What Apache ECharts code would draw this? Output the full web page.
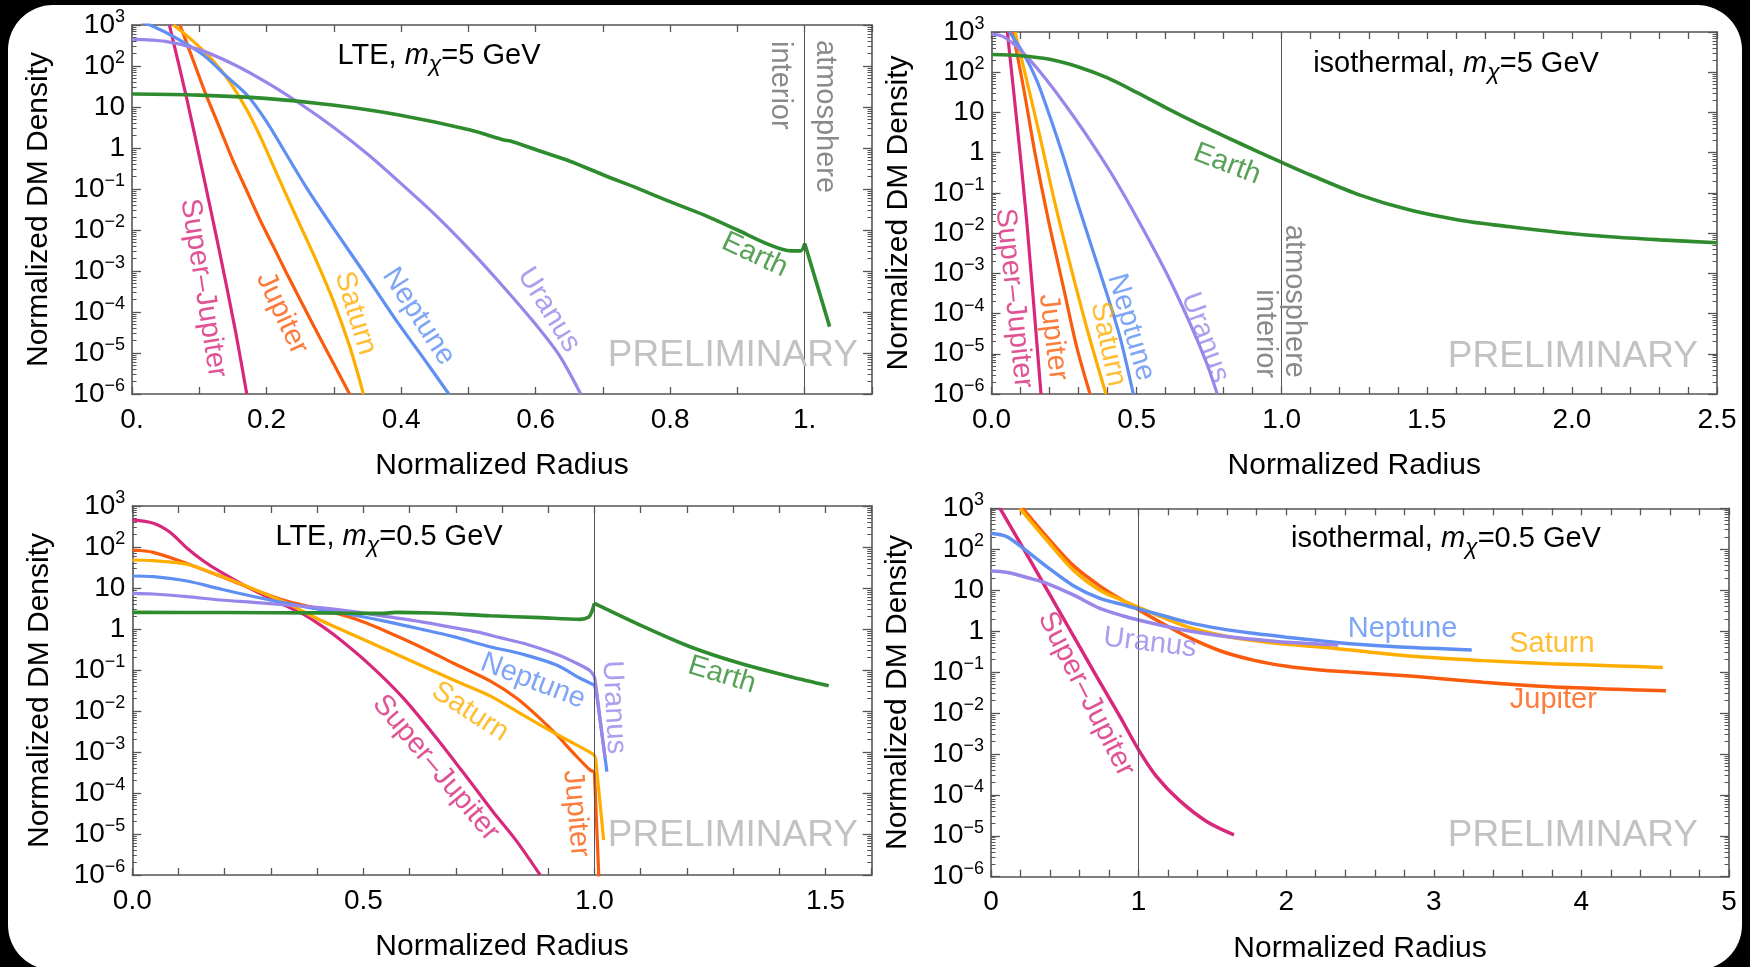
<!DOCTYPE html>
<html><head><meta charset="utf-8">
<script src="https://cdn.jsdelivr.net/npm/echarts@6/dist/echarts.min.js"></script>
<style>
html,body{margin:0;padding:0;background:#000;width:1750px;height:967px;overflow:hidden}
#card{position:absolute;left:8px;top:5px;width:1734px;height:965px;background:#fff;border-radius:45px}
#chart{position:absolute;left:0;top:0;width:1750px;height:967px}
</style></head><body>
<div id="card"></div><div id="chart"></div>
<script>
// ---------------- tick labels ----------------
const xTickTextLTE5 = ['0.', '0.2', '0.4', '0.6', '0.8', '1.'];
const xTickTextISO5 = ['0.0', '0.5', '1.0', '1.5', '2.0', '2.5'];
const xTickTextLTE05 = ['0.0', '0.5', '1.0', '1.5'];
const xTickTextISO05 = ['0', '1', '2', '3', '4', '5'];
const yTickValues = [1e-6, 1e-5, 1e-4, 1e-3, 1e-2, 1e-1, 1, 10, 100, 1000];
const yTickText = ['10^−6', '10^−5', '10^−4', '10^−3', '10^−2', '10^−1', '1', '10', '10^2', '10^3'];

// ---------------- data: [normalized radius, normalized DM density] ----------------
// LTE, m = 5 GeV
const lte5SuperJupiter = [[0.0556,1000],[0.0813,16.3],[0.106,0.22],[0.131,2.5e-3],[0.153,4.0e-5],[0.1706,1.0e-6]];
const lte5Jupiter = [[0.0714,1000],[0.09,151],[0.11,20],[0.13,3.2],[0.15,0.5],[0.17,0.095],[0.19,0.018],[0.21,4.0e-3],[0.23,8.7e-4],[0.25,2.0e-4],[0.27,4.6e-5],[0.30,5.4e-6],[0.3234,1.0e-6]];
const lte5Saturn = [[0.0615,1000],[0.09,417],[0.12,138],[0.145,41.7],[0.17,8.9],[0.19,2.0],[0.215,0.24],[0.24,0.0295],[0.27,2.5e-3],[0.30,1.74e-4],[0.324,1.38e-5],[0.344,1.0e-6]];
const lte5Neptune = [[0,1400],[0.0268,1000],[0.0665,473],[0.106,185],[0.141,55],[0.171,19.6],[0.200,4.4],[0.230,0.675],[0.260,0.104],[0.2996,0.011],[0.344,9.6e-4],[0.394,5.8e-5],[0.4335,7.4e-6],[0.471,1.0e-6]];
const lte5Uranus = [[0,447],[0.05,398],[0.1,251],[0.15,112],[0.2,39.8],[0.25,12],[0.3,3.16],[0.35,0.71],[0.4,0.135],[0.45,0.024],[0.5,3.55e-3],[0.55,4.5e-4],[0.6,5.0e-5],[0.635,8.9e-6],[0.667,1.0e-6]];
const lte5EarthInterior = [[0,20.7],[0.099,19.5],[0.198,16.2],[0.298,11.2],[0.397,6.4],[0.503,2.75],[0.5526,1.57],[0.5625,1.48],[0.602,0.89],[0.652,0.47],[0.701,0.219],[0.751,0.105],[0.80,0.049],[0.85,0.0234],[0.90,0.010],[0.949,4.27e-3],[0.979,3.1e-3],[0.994,3.1e-3],[1.0,4.68e-3]];
const lte5EarthAtmosphere = [[1.0,4.68e-3],[1.037,4.4e-5]];

// isothermal, m = 5 GeV
const iso5SuperJupiter = [[0.0546,1000],[0.0867,6.5],[0.121,0.021],[0.1706,1.0e-6]];
const iso5Jupiter = [[0.0729,1000],[0.1097,43.7],[0.150,0.96],[0.196,0.021],[0.2475,4.6e-4],[0.2935,1.48e-5],[0.3395,1.0e-6]];
const iso5Saturn = [[0.081,1000],[0.1212,64],[0.167,2.49],[0.2188,0.0547],[0.276,1.2e-3],[0.3337,3.2e-5],[0.3945,1.0e-6]];
const iso5Neptune = [[0.0615,1000],[0.1097,295],[0.1556,64],[0.2016,7.8],[0.2475,0.79],[0.2935,0.066],[0.345,4.6e-3],[0.397,3.2e-4],[0.4428,2.6e-5],[0.4888,1.0e-6]];
const iso5Uranus = [[0,891],[0.0408,766],[0.0867,432],[0.1327,200],[0.190,64],[0.259,13.9],[0.339,2.06],[0.4199,0.252],[0.5117,0.0174],[0.6036,9.9e-4],[0.684,5.7e-5],[0.7414,5.8e-6],[0.778,1.0e-6]];
const iso5Earth = [[0,275],[0.1,257],[0.2,209],[0.3,135],[0.4,72],[0.5,31.6],[0.6,13.2],[0.7,5.75],[0.8,2.63],[0.925,1.0],[1.0,0.575],[1.0975,0.282],[1.27,0.088],[1.442,0.0373],[1.614,0.021],[1.787,0.0144],[1.959,0.0104],[2.131,8.1e-3],[2.304,6.8e-3],[2.5,5.75e-3]];

// LTE, m = 0.5 GeV
const lte05SuperJupiter = [[0,457],[0.0455,380],[0.0816,229],[0.118,95],[0.154,45.7],[0.19,25.1],[0.262,8.9],[0.334,3.63],[0.367,2.4],[0.40,1.41],[0.442,0.646],[0.5145,0.132],[0.587,0.0204],[0.659,2.14e-3],[0.731,1.9e-4],[0.78,3.55e-5],[0.83,7.1e-6],[0.8826,1.0e-6]];
const lte05Jupiter = [[0,84.5],[0.0455,74],[0.118,39.8],[0.19,19.5],[0.262,9.3],[0.334,4.8],[0.406,3.08],[0.4785,1.82],[0.551,0.86],[0.623,0.37],[0.695,0.146],[0.774,0.054],[0.832,0.0204],[0.882,6.6e-3],[0.9186,2.6e-3],[0.955,9.3e-4],[0.991,3.6e-4],[1.0,3.3e-4],[1.0095,9e-7]];
const lte05Saturn = [[0,48.2],[0.0455,46.4],[0.118,38],[0.19,20],[0.262,9.5],[0.334,4.27],[0.406,1.66],[0.4785,0.714],[0.551,0.308],[0.623,0.132],[0.695,0.057],[0.774,0.0234],[0.846,7.9e-3],[0.911,3.0e-3],[0.955,1.62e-3],[0.998,8.7e-4],[1.0026,7.1e-4],[1.02,7.1e-6]];
const lte05Neptune = [[0,19.6],[0.0455,18.9],[0.118,14.8],[0.19,9.5],[0.262,6.2],[0.334,4.23],[0.406,3.02],[0.4785,2.19],[0.551,1.51],[0.623,1.0],[0.695,0.65],[0.774,0.37],[0.846,0.241],[0.918,0.132],[0.969,0.063],[1.0,0.043],[1.004,0.0295],[1.027,3.3e-4]];
const lte05Uranus = [[0,7.41],[0.0455,7.14],[0.118,6.15],[0.19,5.09],[0.262,4.47],[0.334,3.85],[0.406,3.31],[0.4785,2.65],[0.551,2.0],[0.623,1.51],[0.695,1.08],[0.746,0.85],[0.796,0.615],[0.846,0.447],[0.918,0.241],[0.969,0.132],[0.991,0.0946],[1.0,0.069],[1.004,0.0355],[1.023,7.1e-4]];
const lte05EarthInterior = [[0,2.55],[0.2,2.52],[0.4,2.47],[0.54,2.4],[0.57,2.55],[0.65,2.45],[0.774,2.11],[0.8825,1.89],[0.969,1.72],[0.987,1.93],[0.994,2.55],[1.0,4.23]];
const lte05EarthAtmosphere = [[1.0,4.23],[1.099,1.25],[1.207,0.37],[1.315,0.146],[1.424,0.0687],[1.507,0.0415]];

// isothermal, m = 0.5 GeV
const iso05SuperJupiter = [[0.061,1000],[0.264,54.7],[0.49,2.06],[0.716,0.0776],[0.874,8.1e-3],[1.0,1.26e-3],[1.122,2.8e-4],[1.28,7.1e-5],[1.461,2.24e-5],[1.646,1.05e-5]];
const iso05Jupiter = [[0.2145,1000],[0.377,204],[0.558,39.8],[0.738,12.6],[0.8966,5.5],[1.0,3.31],[1.145,1.66],[1.326,0.741],[1.551,0.331],[1.777,0.195],[2.003,0.138],[2.229,0.112],[2.43,0.1],[2.884,0.0776],[3.336,0.0562],[3.788,0.0437],[4.24,0.038],[4.573,0.0347]];
const iso05Saturn = [[0.196,1000],[0.377,168],[0.558,30.9],[0.738,10],[0.897,5.5],[1.0,3.8],[1.145,2.29],[1.326,1.29],[1.551,0.805],[1.777,0.585],[2.003,0.476],[2.229,0.409],[2.45,0.339],[2.884,0.238],[3.336,0.19],[3.788,0.16],[4.24,0.141],[4.551,0.129]];
const iso05Neptune = [[0,245],[0.106,204],[0.219,105],[0.377,37.6],[0.558,12.9],[0.738,6.3],[0.897,4.37],[1.0,3.47],[1.145,2.51],[1.326,1.66],[1.551,1.15],[1.777,0.883],[2.003,0.708],[2.229,0.585],[2.432,0.49],[2.771,0.407],[3.257,0.347]];
const iso05Uranus = [[0,29.5],[0.106,27.3],[0.264,19.5],[0.377,14.7],[0.558,7.64],[0.738,3.6],[0.897,2.34],[1.0,1.87],[1.145,1.41],[1.326,1.03],[1.551,0.774],[1.777,0.631],[2.003,0.532],[2.353,0.458]];

// ---------------- styling / layout ----------------
const FONT = 'Liberation Sans';
const FRAME = '#555';
const COL = { sj: '#d8287b', jup: '#fb5b0d', sat: '#ffae00', nep: '#5f8ff2', ura: '#9a86ea', earth: '#2e8b2e' };

const panels = [
  { grid: { left: 132, top: 25, width: 740, height: 369 }, xmax: 1.1, minor: 0.1, major: 0.2, xText: xTickTextLTE5, lineW: 3.2, splitEdge: false,
    curves: [[lte5SuperJupiter, 'sj'], [lte5Jupiter, 'jup'], [lte5Saturn, 'sat'], [lte5Neptune, 'nep'], [lte5Uranus, 'ura'], [lte5EarthInterior, 'earth'], [lte5EarthAtmosphere, 'earth']],
    labels: [['Super–Jupiter', 'sj', 0.106, -3.42, -81], ['Jupiter', 'jup', 0.2228, -4.03, -65], ['Saturn', 'sat', 0.332, -4.03, -73], ['Neptune', 'nep', 0.426, -4.11, -57], ['Uranus', 'ura', 0.6195, -3.95, -58], ['Earth', 'earth', 0.9256, -2.61, -25]] },
  { grid: { left: 991.5, top: 32, width: 725.5, height: 362 }, xmax: 2.5, minor: 0.1, major: 0.5, xText: xTickTextISO5, lineW: 3.2, splitEdge: false,
    curves: [[iso5SuperJupiter, 'sj'], [iso5Jupiter, 'jup'], [iso5Saturn, 'sat'], [iso5Neptune, 'nep'], [iso5Uranus, 'ura'], [iso5Earth, 'earth']],
    labels: [['Super–Jupiter', 'sj', 0.0775, -3.62, -84], ['Jupiter', 'jup', 0.212, -4.59, -83], ['Saturn', 'sat', 0.4014, -4.76, -78], ['Neptune', 'nep', 0.4807, -4.34, -74], ['Uranus', 'ura', 0.7357, -4.6, -70], ['Earth', 'earth', 0.8115, -0.284, -21]] },
  { grid: { left: 132.3, top: 506, width: 739.4, height: 369 }, xmax: 1.6, minor: 0.1, major: 0.5, xText: xTickTextLTE05, lineW: 3.2, splitEdge: true,
    curves: [[lte05SuperJupiter, 'sj'], [lte05Jupiter, 'jup'], [lte05Saturn, 'sat'], [lte05Neptune, 'nep'], [lte05Uranus, 'ura'], [lte05EarthInterior, 'earth'], [lte05EarthAtmosphere, 'earth']],
    labels: [['Neptune', 'nep', 0.867, -1.27, -21], ['Uranus', 'ura', 1.042, -1.91, -87], ['Earth', 'earth', 1.276, -1.12, -17], ['Saturn', 'sat', 0.731, -2.02, -33], ['Super–Jupiter', 'sj', 0.657, -3.39, -50], ['Jupiter', 'jup', 0.9604, -4.5, -85]] },
  { grid: { left: 991, top: 508.3, width: 738, height: 368.4 }, xmax: 5, minor: 0.2, major: 1, xText: xTickTextISO05, lineW: 3.5, splitEdge: false,
    curves: [[iso05SuperJupiter, 'sj'], [iso05Jupiter, 'jup'], [iso05Saturn, 'sat'], [iso05Neptune, 'nep'], [iso05Uranus, 'ura']],
    labels: [['Super–Jupiter', 'sj', 0.644, -1.54, -63], ['Uranus', 'ura', 1.077, -0.29, -7], ['Neptune', 'nep', 2.788, 0.063, 0], ['Saturn', 'sat', 3.80, -0.315, 0], ['Jupiter', 'jup', 3.81, -1.68, 0]] }
];

const yMinorValues = [];
for (let e = -6; e < 3; e++) for (let k = 2; k < 10; k++) yMinorValues.push(+(k * Math.pow(10, e)).toPrecision(3));

function yLabel(v) {
  const i = yTickValues.findIndex(t => Math.abs(Math.log10(t) - Math.log10(v)) < 1e-6);
  if (i < 0) return '';
  const parts = yTickText[i].split('^');
  return parts.length > 1 ? parts[0] + '{s|' + parts[1] + '}' : parts[0];
}

const grids = [], xAxes = [], yAxes = [], series = [];
panels.forEach((p, pi) => {
  grids.push(Object.assign({ containLabel: false }, p.grid));
  const minorVals = [];
  for (let i = 0; i <= Math.round(p.xmax / p.minor); i++) minorVals.push(+(i * p.minor).toFixed(4));
  const majorVals = p.xText.map((t, i) => +(i * p.major).toFixed(4));
  const lineStyle = { color: FRAME, width: 1.6 };
  const tickStyle = { color: FRAME, width: 1.3 };
  xAxes.push({
    type: 'value', gridIndex: pi, position: 'bottom', min: 0, max: p.xmax,
    axisLine: { show: true, onZero: false, lineStyle },
    axisTick: { show: true, inside: true, length: 7, customValues: minorVals, lineStyle: tickStyle },
    axisLabel: { show: true, customValues: majorVals, fontFamily: FONT, fontSize: 28, color: '#000', margin: 12,
      formatter: v => { const k = v / p.major; const r = Math.round(k); return Math.abs(k - r) < 1e-6 && p.xText[r] !== undefined ? p.xText[r] : ''; } },
    splitLine: { show: false },
    name: 'Normalized Radius', nameLocation: 'middle', nameGap: 57,
    nameTextStyle: { fontFamily: FONT, fontSize: 30, color: '#000' }
  });
  xAxes.push({
    type: 'value', gridIndex: pi, position: 'top', min: 0, max: p.xmax,
    axisLine: { show: true, onZero: false, lineStyle },
    axisTick: { show: true, inside: true, length: 7, customValues: minorVals, lineStyle: tickStyle },
    axisLabel: { show: false }, splitLine: { show: false }
  });
  ['left', 'right'].forEach(pos => {
    yAxes.push({
      type: 'log', logBase: 10, gridIndex: pi, position: pos, min: 1e-6, max: 1e3,
      axisLine: { show: true, onZero: false, lineStyle },
      axisTick: { show: true, inside: true, length: 9, customValues: yTickValues, lineStyle: tickStyle },
      axisLabel: pos === 'left' ? {
        show: true, customValues: yTickValues, formatter: yLabel, fontFamily: FONT, fontSize: 28, lineHeight: 34, color: '#000', margin: 7,
        rich: { s: { fontFamily: FONT, fontSize: 18, lineHeight: 20, verticalAlign: 'top', color: '#000' } }
      } : { show: false },
      splitLine: { show: false }, minorTick: { show: false },
      name: pos === 'left' ? 'Normalized DM Density' : '', nameLocation: 'middle', nameGap: 78, nameRotate: 90,
      nameTextStyle: { fontFamily: FONT, fontSize: 30, color: '#000' }
    });
    yAxes.push({
      type: 'log', logBase: 10, gridIndex: pi, position: pos, min: 1e-6, max: 1e3,
      axisLine: { show: false, onZero: false },
      axisTick: { show: true, inside: true, length: 4.5, customValues: yMinorValues, lineStyle: { color: FRAME, width: 1 } },
      axisLabel: { show: false }, splitLine: { show: false }
    });
  });
  const xi = pi * 2, yi = pi * 4;
  const mkLine = (data, color, width, smooth, z) => ({
    type: 'line', xAxisIndex: xi, yAxisIndex: yi, data, showSymbol: false, symbol: 'none',
    smooth, clip: true, z, lineStyle: { color, width }, silent: true, animation: false
  });
  p.curves.forEach((c, ci) => {
    const color = COL[c[1]];
    const width = c[1] === 'earth' ? 3.6 : p.lineW;
    const z = 2 + ci * 0.01;
    const d = c[0];
    const k = d.findIndex(pt => pt[0] >= 1.0);
    if (p.splitEdge && c[1] !== 'earth' && k > 0) {
      // smooth interior, straight plunge at the surface
      series.push(mkLine(d.slice(0, k + 1), color, width, 0.3, z));
      series.push(mkLine(d.slice(k), color, width, false, z));
    } else {
      series.push(mkLine(d, color, width, d.length > 2 ? 0.3 : false, z));
    }
  });
  series.push({
    type: 'line', xAxisIndex: xi, yAxisIndex: yi, data: [], silent: true, animation: false,
    markLine: { silent: true, symbol: ['none', 'none'], label: { show: false }, animation: false,
      lineStyle: { color: '#555', width: 1, type: 'solid' }, data: [{ xAxis: 1 }] }
  });
  series.push({
    type: 'scatter', xAxisIndex: xi, yAxisIndex: yi, symbolSize: 1, z: 6, silent: true, animation: false,
    itemStyle: { color: 'rgba(0,0,0,0)' },
    label: { show: true, position: 'inside', formatter: '{b}', fontFamily: FONT, fontSize: 29 },
    data: p.labels.map(l => ({ name: l[0], value: [l[2], Math.pow(10, l[3])], label: { rotate: l[4], color: COL[l[1]] } }))
  });
});

function titleText(x, y, str) {
  return { type: 'text', x, y, silent: true, z: 10, style: {
    text: str, fontFamily: FONT, fontSize: 29, lineHeight: 40, fill: '#000',
    align: 'center', verticalAlign: 'middle', textAlign: 'center', textVerticalAlign: 'middle',
    rich: {
      i: { fontFamily: FONT, fontSize: 29, fontStyle: 'italic', lineHeight: 40, fill: '#000', color: '#000' },
      s: { fontFamily: FONT, fontSize: 23, fontStyle: 'italic', lineHeight: 22, verticalAlign: 'bottom', fill: '#000', color: '#000' }
    } } };
}
function grayText(x, y, str, align, rot, size, color) {
  return { type: 'text', x, y, rotation: rot, silent: true, z: 10, style: {
    text: str, fontFamily: FONT, fontSize: size, fill: color,
    align, verticalAlign: 'middle', textAlign: align, textVerticalAlign: 'middle' } };
}
const R = -Math.PI / 2;
const graphics = [
  titleText(439, 56, 'LTE, {i|m}{s|χ}=5 GeV'),
  titleText(1456, 64, 'isothermal, {i|m}{s|χ}=5 GeV'),
  titleText(389, 537, 'LTE, {i|m}{s|χ}=0.5 GeV'),
  titleText(1446, 539, 'isothermal, {i|m}{s|χ}=0.5 GeV'),
  grayText(780, 41, 'interior', 'left', R, 29, '#8a8a8a'),
  grayText(825, 40, 'atmosphere', 'left', R, 29, '#8a8a8a'),
  grayText(1265, 378, 'interior', 'right', R, 29, '#8a8a8a'),
  grayText(1294, 378, 'atmosphere', 'right', R, 29, '#8a8a8a'),
  grayText(858, 356, 'PRELIMINARY', 'right', 0, 37, '#c2c2c2'),
  grayText(1698, 357, 'PRELIMINARY', 'right', 0, 37, '#c2c2c2'),
  grayText(858, 836, 'PRELIMINARY', 'right', 0, 37, '#c2c2c2'),
  grayText(1698, 836, 'PRELIMINARY', 'right', 0, 37, '#c2c2c2')
];

const chart = echarts.init(document.getElementById('chart'), null, { renderer: 'canvas' });
chart.setOption({
  backgroundColor: 'transparent',
  animation: false,
  grid: grids, xAxis: xAxes, yAxis: yAxes, series,
  graphic: graphics
});
</script>
</body></html>
